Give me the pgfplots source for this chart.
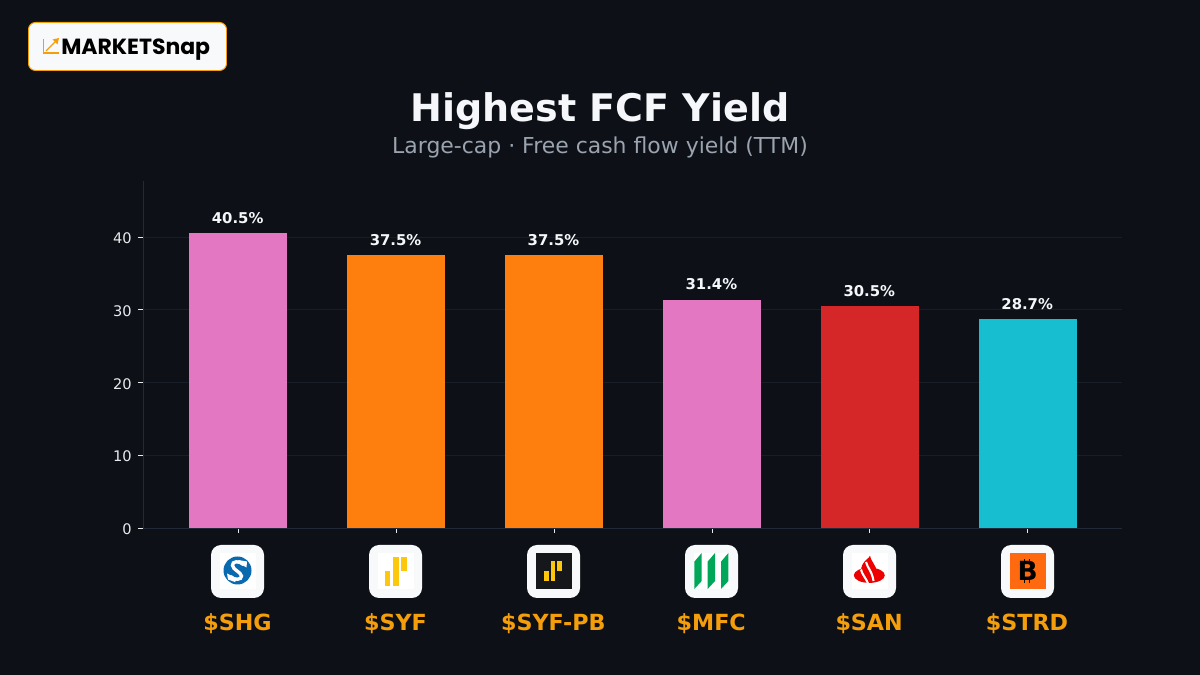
\documentclass[border=0pt]{standalone}
\usepackage{fontspec}
\setmainfont{DejaVu Sans}
\newfontfamily\poppins{Poppins}
\usepackage{pgfplots}
\pgfplotsset{compat=1.18}
\definecolor{bgc}{HTML}{0D1117}
\definecolor{spinec}{HTML}{212A38}
\definecolor{gridc}{HTML}{181E27}
\definecolor{tickc}{HTML}{E8EAED}
\definecolor{titlec}{HTML}{F5F7FA}
\definecolor{subc}{HTML}{9AA3AE}
\definecolor{amberc}{HTML}{F59E0B}
\definecolor{boxc}{HTML}{F8F9FB}
\definecolor{pinkc}{HTML}{E377C2}
\definecolor{orangec}{HTML}{FF7F0E}
\definecolor{redc}{HTML}{D62728}
\definecolor{cyanc}{HTML}{17BECF}
\definecolor{syfy}{HTML}{FDC70C}
\definecolor{shgb}{HTML}{0A6AB0}
\definecolor{mfcg}{HTML}{00A758}
\definecolor{sanr}{HTML}{EC0000}
\definecolor{strdo}{HTML}{FF6A10}
\definecolor{pbdark}{HTML}{15171A}
% white rounded box with the square logo area, centre x given in px
\newcommand{\iconbox}[2]{%
  \fill[boxc,rounded corners=7.2pt] (#1-26.5,545) rectangle (#1+26.5,598);
  \fill[#2] (#1-18,553) rectangle (#1+18,589);
}
\begin{document}
\begin{tikzpicture}
\path[use as bounding box,fill=bgc] (0,0) rectangle (864pt,486pt);
\begin{axis}[
  at={(102.96pt,105.84pt)}, anchor=south west,
  scale only axis, width=704.88pt, height=249.84pt,
  xmin=-0.603, xmax=5.597, ymin=0, ymax=47.7,
  axis lines=left, axis line style={spinec,-},
  ybar, bar width=0.62,
  xtick={0,1,2,3,4,5},
  xticklabels={\$SHG,\$SYF,\$SYF-PB,\$MFC,\$SAN,\$STRD},
  ytick={0,10,20,30,40},
  tick align=outside, major tick length=3.6pt,
  tick style={tickc,line width=0.6pt},
  ymajorgrids, grid style={gridc,line width=0.6pt},
  xticklabel style={font=\fontsize{16}{18}\selectfont\bfseries,text=amberc,anchor=base,xshift=-0.5pt,yshift=-70pt},
  yticklabel style={font=\fontsize{10.5}{12}\selectfont,text=tickc,xshift=-1pt,yshift=-1pt},
  /pgf/number format/assume math mode=true,
  nodes near coords={\pgfmathprintnumber[fixed,fixed zerofill,precision=1,assume math mode=true]{\pgfplotspointmeta}\%},
  nodes near coords style={font=\fontsize{10.7}{13}\selectfont\bfseries,text=titlec,anchor=base,xshift=-0.4pt,yshift=7pt},
  every axis plot/.append style={bar shift=0pt,draw=none},
]
\addplot[fill=pinkc] coordinates {(0,40.5)};
\addplot[fill=orangec] coordinates {(1,37.5)};
\addplot[fill=orangec] coordinates {(2,37.5)};
\addplot[fill=pinkc] coordinates {(3,31.4)};
\addplot[fill=redc] coordinates {(4,30.5)};
\addplot[fill=cyanc] coordinates {(5,28.7)};
\end{axis}
\begin{scope}[x=0.72pt,y=-0.72pt,yshift=486pt]
  % brand badge
  \filldraw[fill=boxc,draw=amberc,line width=0.7pt,rounded corners=5pt] (28.5,22.5) rectangle (226.5,70.5);
  \draw[amberc,line width=1pt] (43.5,39) -- (43.5,53) -- (59,53);
  \draw[amberc,line width=1pt] (46,51) -- (56,41);
  \fill[amberc] (59,38) -- (52.5,39.5) -- (57.5,44.5) -- cycle;
  \node[anchor=base west,inner sep=0pt,text=black] at (61,54.5) {\fontsize{15.8}{18}\poppins\bfseries MARKETSnap};
  % titles
  \node[anchor=base,inner sep=0pt,text=titlec] at (600,122) {\fontsize{27.4}{30}\selectfont\bfseries Highest FCF Yield};
  \node[anchor=base,inner sep=0pt,text=subc] at (600,154) {\fontsize{15.8}{18}\selectfont Large-cap · Free cash flow yield (TTM)};
  % SHG
  \iconbox{237.5}{white}
  \fill[shgb] (237.5,570.5) circle (14);
  \draw[white,line width=2.4pt] (243.5,564.5) .. controls (239,560.5) and (232,561) .. (232.5,565.5) .. controls (233,570) and (241,572) .. (241.5,576) .. controls (242,580) and (234,580.5) .. (230.5,576.5);
  \fill[white] (238,560) -- (247,561.5) -- (246.5,567.5) -- (242,565) -- cycle;
  \fill[white] (227,573.5) -- (232,576) -- (237,579) -- (235,582) -- (228,579.5) -- cycle;
  % SYF
  \iconbox{395.5}{white}
  \fill[syfy] (385,571) rectangle (390.3,585.7);
  \fill[syfy] (393.3,557) rectangle (398.7,585.7);
  \fill[syfy] (401.3,557) rectangle (406.7,571);
  % SYF-PB
  \iconbox{553.5}{pbdark}
  \fill[syfy] (544,570.7) rectangle (548.7,581.3);
  \fill[syfy] (550.7,560.7) rectangle (555.3,581.3);
  \fill[syfy] (557,560.7) rectangle (561.7,571);
  % MFC
  \iconbox{711.5}{white}
  \foreach \dx in {0,13.3,26.7} {
    \fill[mfcg] (694.3+\dx,561.7) -- (701.7+\dx,553) -- (701.7+\dx,581) -- (694.3+\dx,589) -- cycle;
  }
  % SAN
  \iconbox{869.5}{white}
  \fill[sanr] (869.3,575.3) ellipse [x radius=15.5,y radius=7.6];
  \fill[sanr] (870,555.7) .. controls (870,560) and (877,566) .. (876.5,572) -- (873,582) -- (865,582) -- (861,571) .. controls (861,566) and (863,563) .. (866,560) .. controls (868,558.5) and (869.5,557) .. (870,555.7) -- cycle;
  \draw[white,line width=1.5pt] (866,562) .. controls (867.5,568) and (872,571) .. (873.5,581);
  \draw[white,line width=1.5pt] (861,569.5) .. controls (862,574.5) and (866,578) .. (868,583.5);
  % STRD
  \iconbox{1027.5}{strdo}
  \node[inner sep=0pt,text=black] at (1027.7,571) {\fontsize{19}{20}\selectfont\bfseries B};
  \draw[black,line width=1.4pt] (1024.5,559.5) -- (1024.5,563) (1029.5,559.5) -- (1029.5,563) (1024.5,579) -- (1024.5,583) (1029.5,579) -- (1029.5,583);
\end{scope}
\end{tikzpicture}
\end{document}
